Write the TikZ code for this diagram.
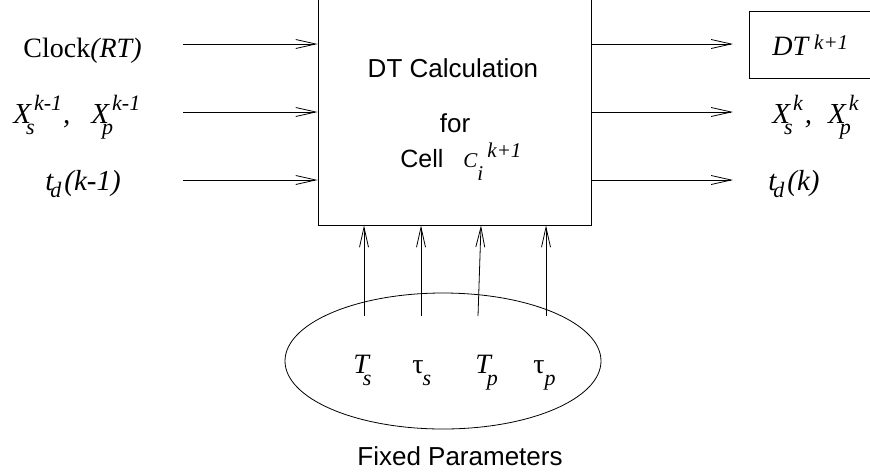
\documentclass[tikz,border=0pt]{standalone}
\usepackage{fontspec}
\setmainfont{Liberation Serif}
\newfontfamily\hv{Liberation Sans}
\usetikzlibrary{arrows.meta,shapes.geometric}
\newcommand{\FS}[1]{\fontsize{#1}{#1}\selectfont}
\newcommand{\ssz}{22}
% base, sup, sub, sup raise, sub lower, sub kern, sup kern
\newcommand{\SubSup}[7]{#1\rlap{\hspace{#6}\raisebox{-#5}{\FS{\ssz}#3}}\hspace{#7}\raisebox{#4}{\FS{\ssz}#2}}
% base, sub, lower, kern
\newcommand{\SbOnly}[4]{#1\hspace{#4}\raisebox{-#3}{\FS{\ssz}#2}}
\begin{document}
\begin{tikzpicture}[x=1pt,y=-1pt,line width=0.8pt,
  arr/.style={-{Straight Barb[length=20pt,width=9pt,line width=0.8pt]}},
  lbl/.style={anchor=base west,inner sep=0pt,font=\FS{28}\itshape},
  sans/.style={anchor=base,inner sep=0pt,font=\hv\FS{26}},
  boxst/.style={draw,rectangle,inner sep=0pt}]
\useasboundingbox (0,0) rectangle (870,475);
\clip (0,0) rectangle (870,475);

% main box
\node[boxst,minimum width=273pt,minimum height=255pt] (calc) at (454.5,97.5) {};
\node[sans] (t1) at (453,77) {DT Calculation};
\node[sans] (t2) at (455,132) {for};
\node[anchor=base west,inner sep=0pt,font=\hv\FS{25}] (t3) at (400,167)
  {Cell\hspace{20pt}{\fontspec{Liberation Serif}\itshape\FS{21}\renewcommand{\ssz}{21}\SubSup{C}{k+1}{i}{10pt}{13pt}{0pt}{10pt}}};

% small output box
\node[boxst,minimum width=140pt,minimum height=67pt] (dtbox) at (819,44.5) {};
\node[lbl] (dt) at (772,55) {DT\hspace{6pt}\raisebox{6pt}{\FS{21}k+1}};

% left labels
\node[lbl] (clk) at (23,57) {{\upshape Clock}(RT)};
\node[lbl,font=\FS{29}\itshape] (xin) at (13,123)
  {\SubSup{X}{k-1}{s}{13pt}{11pt}{-5pt}{3pt}\hspace{1pt},\hspace{21pt}\SubSup{X}{k-1}{p}{13pt}{11pt}{-7pt}{3pt}};
\node[lbl,font=\FS{29}\itshape] (tin) at (45,190) {\SbOnly{t}{d}{7pt}{-3pt}\hspace{3pt}(k-1)};

% right labels
\node[lbl,font=\FS{29}\itshape] (xout) at (772,123)
  {\SubSup{X}{k}{s}{13pt}{11pt}{-6pt}{3pt}\hspace{2pt},\hspace{16pt}\SubSup{X}{k}{p}{13pt}{11pt}{-6pt}{3pt}};
\node[lbl,font=\FS{29}\itshape] (tout) at (768,190) {\SbOnly{t}{d}{7pt}{-3pt}\hspace{3pt}(k)};

% input / output arrows
\coordinate (a1) at (183,44);
\coordinate (a2) at (183,112);
\coordinate (a3) at (183,180);
\coordinate (b1) at (733,44);
\coordinate (b2) at (733,112);
\coordinate (b3) at (733,180);
\draw[arr] (a1) -- (calc.west |- a1);
\draw[arr] (a2) -- (calc.west |- a2);
\draw[arr] (a3) -- (calc.west |- a3);
\draw[arr] (calc.east |- b1) -- (b1);
\draw[arr] (calc.east |- b2) -- (b2);
\draw[arr] (calc.east |- b3) -- (b3);

% fixed parameters
\node[draw,ellipse,minimum width=316pt,minimum height=136pt,inner sep=0pt] (params) at (443,361) {};
\node[lbl] (ts) at (353,373) {\SbOnly{T}{s}{12pt}{-6pt}};
\node[lbl] (taus) at (412,373) {\upshape\SbOnly{τ}{\itshape s}{12pt}{-1pt}};
\node[lbl] (tp) at (475,373) {\SbOnly{T}{p}{12pt}{-4pt}};
\node[lbl] (taup) at (533,373) {\upshape\SbOnly{τ}{\itshape p}{12pt}{0pt}};
\node[sans] (fp) at (460,465) {Fixed Parameters};

\coordinate (p1) at (364,316);
\coordinate (p2) at (421,316);
\coordinate (p3) at (478,316);
\coordinate (p4) at (546,316);
\coordinate (q3) at (481,0);
\draw[arr] (p1) -- (calc.south -| p1);
\draw[arr] (p2) -- (calc.south -| p2);
\draw[arr] (p3) -- (calc.south -| q3);
\draw[arr] (p4) -- (calc.south -| p4);
\end{tikzpicture}
\end{document}
